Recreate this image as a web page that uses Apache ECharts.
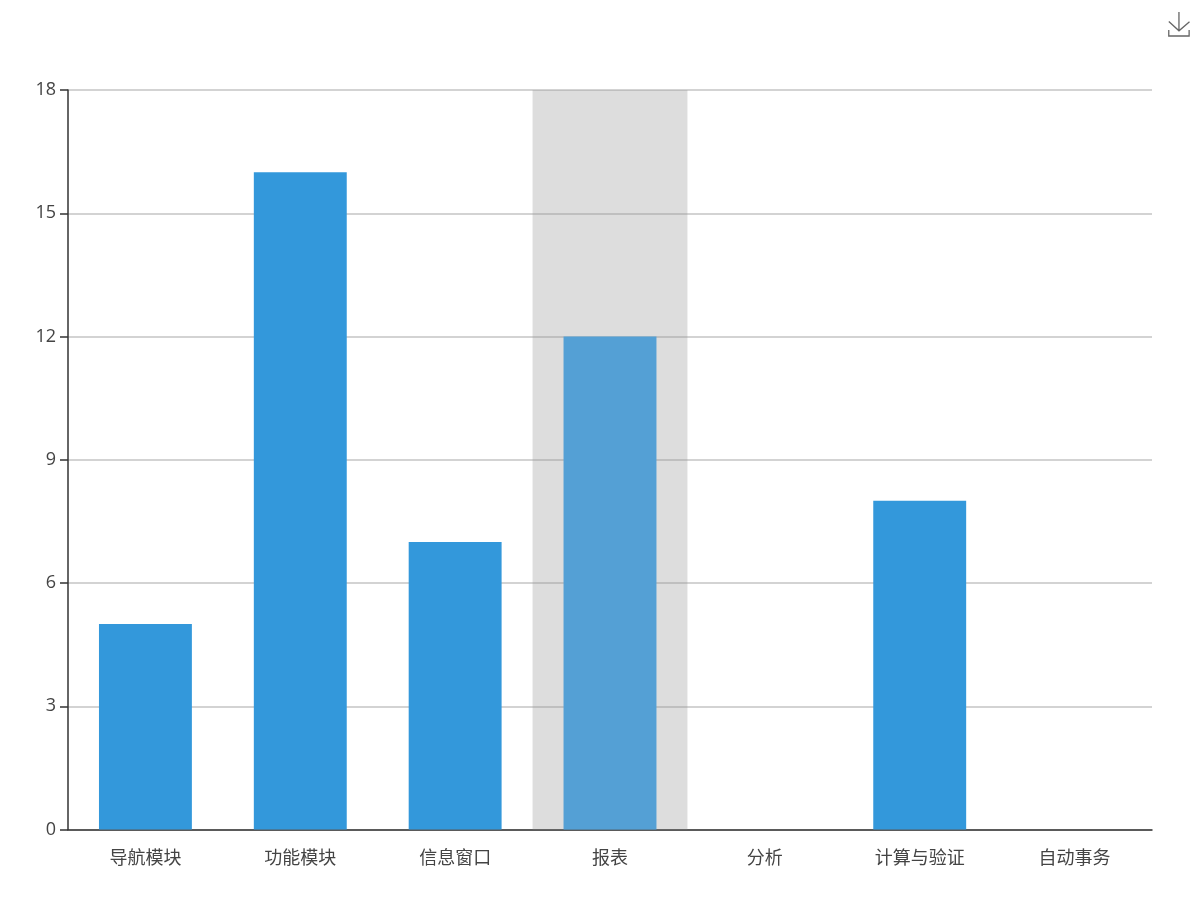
<!DOCTYPE html>
<html><head><meta charset="utf-8"><style>html,body{margin:0;padding:0;background:#fff}#c{width:1200px;height:900px}</style>
<script src="https://cdn.jsdelivr.net/npm/echarts@6/dist/echarts.min.js"></script></head>
<body><div id="c"></div><script>
const categories=['导航模块','功能模块','信息窗口','报表','分析','计算与验证','自动事务'];
const values=[5,16,7,12,0,8,0];
const yTicks={min:0,max:18,interval:3};
const chart=echarts.init(document.getElementById('c'),null,{renderer:'canvas'});
const fontFamily='"Open Sans","Noto Sans CJK SC",sans-serif';
chart.setOption({
 animation:false,
 grid:{left:68,right:48,top:90,bottom:70.5,containLabel:false},
 toolbox:{show:true,right:8,top:9.5,padding:0,itemSize:24,feature:{saveAsImage:{show:true,title:''}},iconStyle:{borderColor:'#666',color:'none',borderWidth:1.3}},
 tooltip:{trigger:'axis',axisPointer:{type:'shadow',shadowStyle:{color:'rgba(150,150,150,0.32)'}},extraCssText:'visibility:hidden;'},
 xAxis:{type:'category',data:categories,axisTick:{alignWithLabel:true,length:6,lineStyle:{color:'#333',width:1.5}},axisLine:{lineStyle:{color:'#333',width:1.5}},
  axisLabel:{color:'#444',fontSize:18,margin:20,fontFamily}},
 yAxis:{type:'value',min:yTicks.min,max:yTicks.max,interval:yTicks.interval,
  axisLine:{show:true,lineStyle:{color:'#333',width:1.5}},axisTick:{show:true,length:8,lineStyle:{color:'#333',width:1.5}},
  axisLabel:{color:'#444',fontSize:18,margin:12,fontFamily},splitLine:{lineStyle:{color:'#c4c4c4',width:1.5}}},
 series:[{type:'bar',data:values,barWidth:'60%',itemStyle:{color:'#3398DB'},emphasis:{itemStyle:{color:'#35A5F4'}}}]
});
chart.dispatchAction({type:'showTip',seriesIndex:0,dataIndex:3});
</script></body></html>
